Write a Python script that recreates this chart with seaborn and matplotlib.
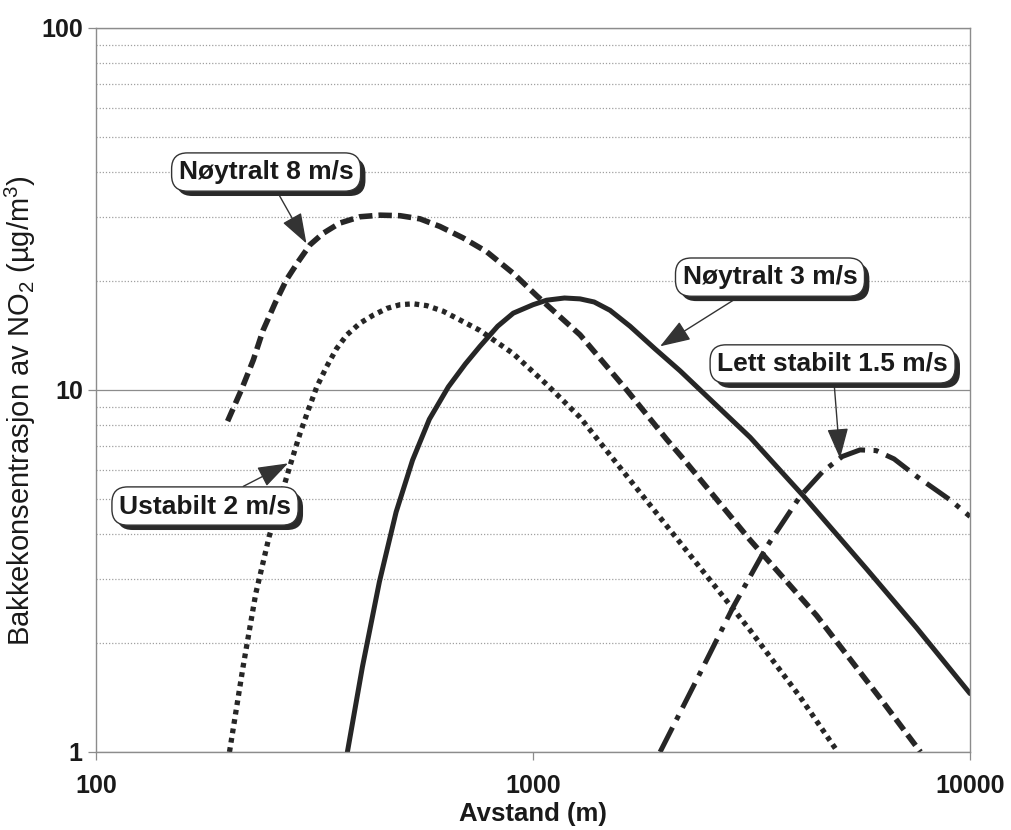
import numpy as np
import pandas as pd
import seaborn as sns
import matplotlib.pyplot as plt
import matplotlib.patheffects as pe
from matplotlib.ticker import FixedLocator, FixedFormatter, LogLocator, NullLocator, NullFormatter

## datos
avstand_n8 = [200, 215, 229, 241, 257, 273, 290, 309, 331, 361, 402, 447, 496, 551, 612, 692, 783, 901, 1020, 1281, 1638, 2023, 2208, 3138, 4457, 6333, 7700]
konsentr_n8 = [8.2, 10.0, 12.1, 14.6, 17.4, 20.2, 22.6, 25.2, 27.1, 28.9, 30.1, 30.4, 30.3, 29.7, 28.3, 26.3, 24.1, 21.0, 18.2, 14.2, 10.0, 7.3, 6.45, 3.85, 2.38, 1.37, 1.0]

avstand_u2 = [202, 217, 232, 249, 277, 293, 306, 320, 337, 355, 375, 402, 431, 463, 496, 532, 571, 623, 681, 756, 901, 1080, 1281, 1554, 2208, 3138, 4083, 4980]
konsentr_u2 = [1.0, 1.72, 2.74, 3.94, 6.1, 7.59, 8.81, 10.2, 11.6, 13.0, 14.2, 15.3, 16.1, 16.8, 17.2, 17.3, 17.1, 16.5, 15.6, 14.6, 12.6, 10.3, 8.4, 6.27, 3.69, 2.17, 1.42, 1.0]

avstand_n3 = [376, 407, 445, 486, 530, 579, 640, 700, 756, 830, 901, 1000, 1074, 1180, 1281, 1380, 1500, 1667, 1900, 2169, 3138, 4154, 5801, 7551, 10000]
konsentr_n3 = [1.0, 1.72, 2.95, 4.6, 6.4, 8.3, 10.2, 11.8, 13.2, 15.0, 16.3, 17.2, 17.7, 17.95, 17.85, 17.5, 16.6, 15.0, 13.0, 11.3, 7.4, 5.1, 3.2, 2.2, 1.45]

avstand_ls = [1953, 2410, 2873, 3425, 4083, 4600, 5100, 5600, 6100, 6700, 7551, 9002, 10000]
konsentr_ls = [1.0, 1.65, 2.52, 3.69, 5.08, 5.95, 6.55, 6.83, 6.8, 6.45, 5.77, 4.97, 4.47]

etiquetas = ['Nøytralt 8 m/s', 'Ustabilt 2 m/s', 'Nøytralt 3 m/s', 'Lett stabilt 1.5 m/s']
x_ticks = [100, 1000, 10000]
y_ticks = [1, 10, 100]

## setting
sns.set_theme(style="white")
plt.rcParams['font.family'] = ['Liberation Sans', 'DejaVu Sans']
plt.rcParams['mathtext.fontset'] = 'custom'
plt.rcParams['mathtext.rm'] = 'Liberation Sans'
plt.rcParams['mathtext.it'] = 'Liberation Sans'

color_linea = '#262626'
color_grid = '#8c8c8c'

fig = plt.figure(figsize=(10.11, 8.30), dpi=100)
ax = fig.add_axes([0.095, 0.094, 0.8645, 0.8723])

## curvas
curvas = [
    (avstand_n8, konsentr_n8, (2.4, 1.1), 4.0, 'butt'),
    (avstand_u2, konsentr_u2, (0.9, 0.9), 3.8, 'butt'),
    (avstand_n3, konsentr_n3, None, 3.6, 'round'),
    (avstand_ls, konsentr_ls, (5.5, 1.7, 1.0, 1.7), 3.6, 'butt'),
]
for (xs, ys, patron, lw, cap), nombre in zip(curvas, etiquetas):
    df = pd.DataFrame({'Avstand': xs, 'Konsentrasjon': ys})
    sns.lineplot(data=df, x='Avstand', y='Konsentrasjon', ax=ax, color=color_linea,
                 linewidth=lw, sort=False, estimator=None)
    linea = ax.lines[-1]
    if patron is not None:
        linea.set_dashes(patron)
    linea.set_dash_capstyle(cap)
    linea.set_solid_capstyle(cap)
    linea.set_solid_joinstyle('round')
    linea.set_dash_joinstyle('round')

## ejes
ax.set_xscale('log')
ax.set_yscale('log')
ax.set_xlim(100, 10000)
ax.set_ylim(1, 100)

ax.xaxis.set_major_locator(FixedLocator(x_ticks))
ax.xaxis.set_major_formatter(FixedFormatter([str(v) for v in x_ticks]))
ax.xaxis.set_minor_locator(NullLocator())
ax.yaxis.set_major_locator(FixedLocator(y_ticks))
ax.yaxis.set_major_formatter(FixedFormatter([str(v) for v in y_ticks]))
ax.yaxis.set_minor_locator(LogLocator(base=10, subs=np.arange(2, 10)))
ax.yaxis.set_minor_formatter(NullFormatter())

ax.grid(False)
ax.yaxis.grid(True, which='major', color=color_grid, linewidth=0.9, linestyle='-')
ax.yaxis.grid(True, which='minor', color='#a0a0a0', linewidth=0.9, linestyle=(0, (1, 1.5)))
ax.set_axisbelow(True)

for s in ax.spines.values():
    s.set_color(color_grid)
    s.set_linewidth(1.0)

ax.tick_params(axis='x', which='major', direction='out', length=6, width=0.9, color=color_grid,
               pad=10, labelsize=18, bottom=True)
ax.tick_params(axis='y', which='major', direction='out', length=6, width=0.9, color=color_grid,
               pad=3.5, labelsize=18, left=True)
ax.tick_params(axis='y', which='minor', length=0)
for lab in ax.get_xticklabels() + ax.get_yticklabels():
    lab.set_fontweight('bold')
    lab.set_color('#1a1a1a')

ax.set_xlabel('Avstand (m)', fontsize=18.5, fontweight='bold', color='#1a1a1a', labelpad=3)
ax.set_ylabel('Bakkekonsentrasjon av NO$_2$ (µg/m$^3$)', fontsize=21, color='#1a1a1a')
ax.yaxis.set_label_coords(-0.0665, 0.471)

## cajas con flechas
cajas = [
    (etiquetas[0], (303, 25.4), (245, 40.0)),
    (etiquetas[1], (275, 6.27), (177.6, 4.78)),
    (etiquetas[2], (1953, 13.2), (3485, 20.5)),
    (etiquetas[3], (5040, 6.47), (4847, 11.8)),
]
for texto, punta, caja in cajas:
    ann = ax.annotate(texto, xy=punta, xytext=caja, textcoords='data', ha='center', va='center',
                      fontsize=19, fontweight='bold', color='#1a1a1a',
                      bbox=dict(boxstyle='round,pad=0.27,rounding_size=0.6', fc='white', ec='#333333', lw=1.0),
                      arrowprops=dict(arrowstyle='-|>,head_length=1.0,head_width=0.35', color='#333333',
                                      lw=1.0, shrinkA=0, shrinkB=0))
    ann.get_bbox_patch().set_path_effects([pe.withSimplePatchShadow(offset=(3.5, -3.5), shadow_rgbFace='#2a2a2a', alpha=1.0)])

fig.savefig('out.png', dpi=100, facecolor='white')
